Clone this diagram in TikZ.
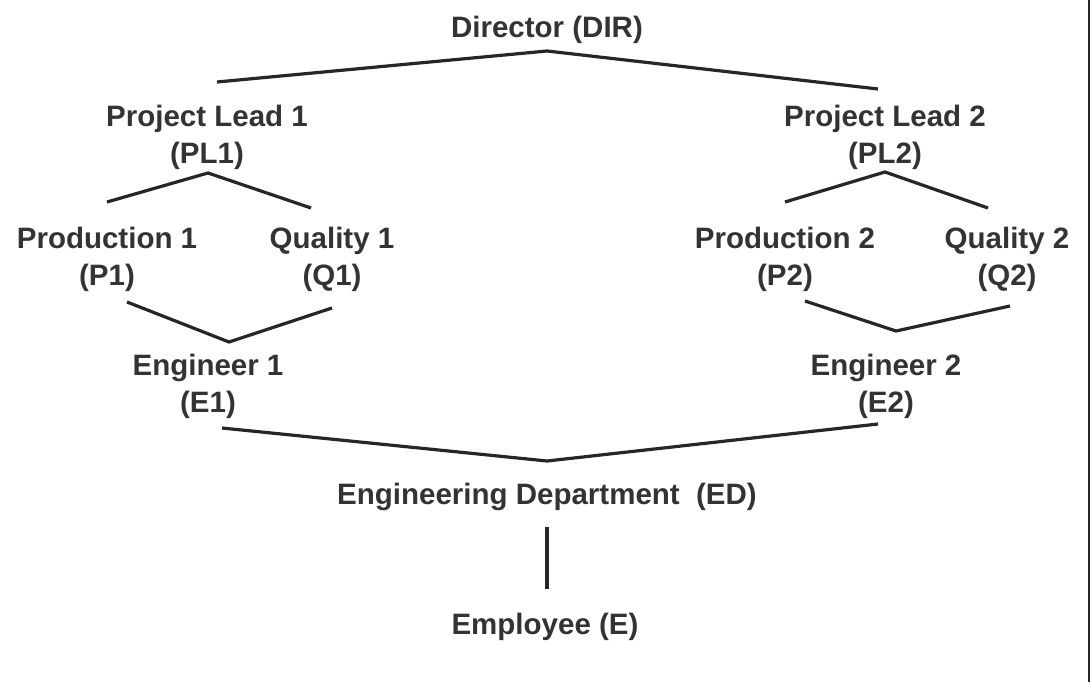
\documentclass[tikz,border=0pt]{standalone}
\usepackage{fontspec}
\setmainfont{Liberation Sans}
\definecolor{txt}{HTML}{333333}
\definecolor{ln}{HTML}{262626}
\begin{document}
\begin{tikzpicture}[x=1pt,y=-1pt,
  lbl/.style={text=txt,font=\bfseries\fontsize{29.5}{37}\selectfont,align=center,inner sep=0pt},
  conn/.style={draw=ln,line width=3.2pt,line join=miter}]
\useasboundingbox (0,0) rectangle (1090,682);
\fill[ln] (1087.5,0) rectangle (1090,682);
% nodes
\node[lbl] (DIR) at (547,30) {Director (DIR)};
\node[lbl] (PL1) at (207,137) {Project Lead 1\\(PL1)};
\node[lbl] (PL2) at (885,137) {Project Lead 2\\(PL2)};
\node[lbl] (P1) at (107,259) {Production 1\\(P1)};
\node[lbl] (Q1) at (332,259) {Quality 1\\(Q1)};
\node[lbl] (P2) at (785,259) {Production 2\\(P2)};
\node[lbl] (Q2) at (1007,259) {Quality 2\\(Q2)};
\node[lbl] (E1) at (208,386) {Engineer 1\\(E1)};
\node[lbl] (E2) at (886,386) {Engineer 2\\(E2)};
\node[lbl] (ED) at (547,497) {Engineering Department~~(ED)};
\node[lbl] (E) at (545,627) {Employee (E)};
% connector points
\coordinate (dirA) at (547,51);
\coordinate (dirL) at (217,82);
\coordinate (dirR) at (878,89);
\coordinate (pl1A) at (208,173);
\coordinate (pl1L) at (107,202);
\coordinate (pl1R) at (311,208);
\coordinate (pl2A) at (885,172);
\coordinate (pl2L) at (785,202);
\coordinate (pl2R) at (988,208);
\coordinate (e1L) at (127,302);
\coordinate (e1A) at (229,342);
\coordinate (e1R) at (332,308);
\coordinate (e2L) at (805,301);
\coordinate (e2A) at (896,331);
\coordinate (e2R) at (1010,306);
\coordinate (edL) at (222,428);
\coordinate (edA) at (547,461);
\coordinate (edR) at (878,424);
\coordinate (edT) at (547,527);
\coordinate (edB) at (547,589);
% connectors
\draw[conn] (dirL) -- (dirA) -- (dirR);
\draw[conn] (pl1L) -- (pl1A) -- (pl1R);
\draw[conn] (pl2L) -- (pl2A) -- (pl2R);
\draw[conn] (e1L) -- (e1A) -- (e1R);
\draw[conn] (e2L) -- (e2A) -- (e2R);
\draw[conn] (edL) -- (edA) -- (edR);
\draw[conn] (edT) -- (edB);
\end{tikzpicture}
\end{document}
